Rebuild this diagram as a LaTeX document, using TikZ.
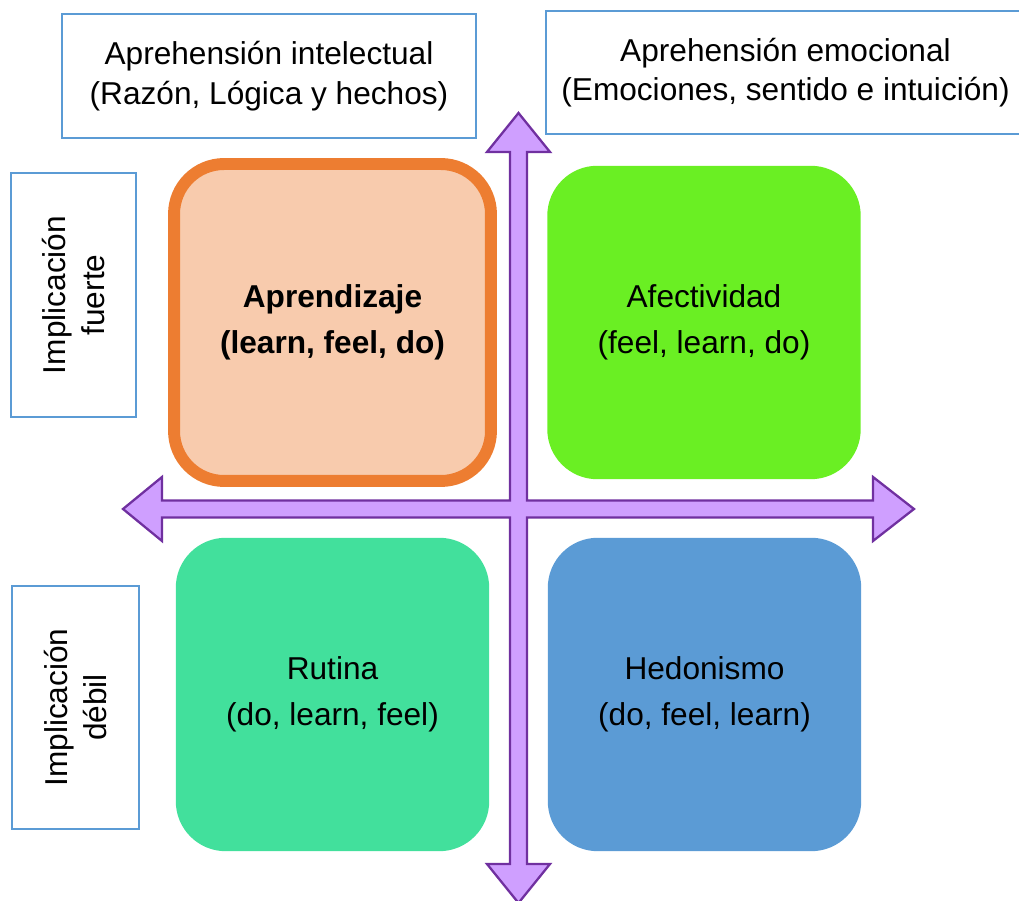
\documentclass[tikz,border=0pt]{standalone}
\usepackage{fontspec}
\setmainfont{Liberation Sans}
\usepackage{tikz}
\definecolor{boxline}{HTML}{5B9BD5}
\definecolor{quadA}{HTML}{F8CBAD}
\definecolor{quadAline}{HTML}{ED7D31}
\definecolor{quadB}{HTML}{6AEF23}
\definecolor{quadC}{HTML}{42E09C}
\definecolor{quadD}{HTML}{5B9BD5}
\definecolor{crossfill}{HTML}{CF9FFF}
\definecolor{crossline}{HTML}{7030A0}

\begin{document}
\begin{tikzpicture}[
  x=0.02cm, y=-0.02cm,
  labelbox/.style={draw=boxline, line width=1.2pt, fill=white, align=center,
                   inner sep=0pt, font=\fontsize{18}{22.5}\selectfont},
  quad/.style={rounded corners=1cm, align=center, inner sep=0pt,
               minimum width=6.27cm, minimum height=6.27cm,
               font=\fontsize{18}{26.5}\selectfont},
  cross/.style={fill=crossfill, draw=crossline, line width=1.3pt, line join=miter},
]
\useasboundingbox (0,0) rectangle (1019,901);

% axes
\draw[cross] (518.5,113) -- (550,152) -- (527,152) -- (527,500.5) -- (873,500.5)
  -- (873,477) -- (914,509) -- (873,541) -- (873,517.5) -- (527,517.5)
  -- (527,864) -- (550,864) -- (518.5,903) -- (487,864) -- (510,864)
  -- (510,517.5) -- (162,517.5) -- (162,541) -- (123,509) -- (162,477)
  -- (162,500.5) -- (510,500.5) -- (510,152) -- (487,152) -- cycle;

% headers
\node[labelbox, minimum width=8.28cm, minimum height=2.48cm] (intel) at (269,76)
  {Aprehensión intelectual\\(Razón, Lógica y hechos)};
\node[labelbox, minimum width=9.58cm, minimum height=2.46cm] (emoc) at (785.5,72.5)
  {Aprehensión emocional\\(Emociones, sentido e intuición)};
\node[labelbox, rotate=90, minimum width=4.88cm, minimum height=2.5cm] (fuerte) at (73.5,295)
  {Implicación\\fuerte};
\node[labelbox, rotate=90, minimum width=4.86cm, minimum height=2.54cm] (debil) at (75.5,707.5)
  {Implicación\\débil};

% quadrants
\node[quad, fill=quadA, draw=quadAline, line width=6.8pt,
      minimum width=6.34cm, minimum height=6.34cm] (learn) at (332.5,322.5)
  {\textbf{Aprendizaje}\\\textbf{(learn, feel, do)}};
\node[quad, fill=quadB] (feel) at (704,322.5) {Afectividad\\(feel, learn, do)};
\node[quad, fill=quadC] (rutina) at (332.5,694.5) {Rutina\\(do, learn, feel)};
\node[quad, fill=quadD] (hedon) at (704.5,694.5) {Hedonismo\\(do, feel, learn)};

\end{tikzpicture}
\end{document}
